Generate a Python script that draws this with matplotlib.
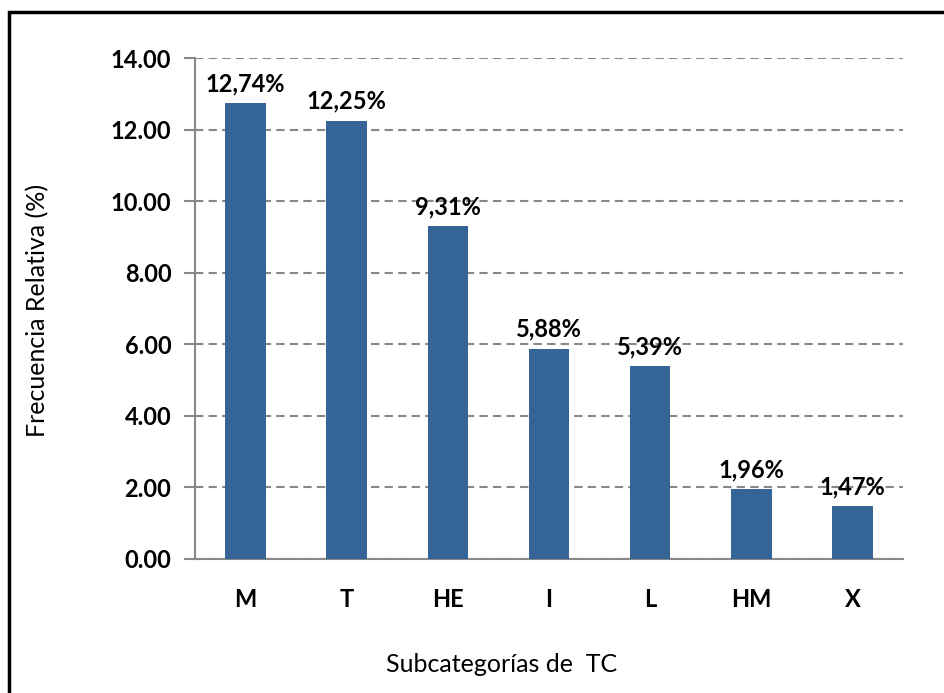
import matplotlib.pyplot as plt
from matplotlib.patches import Rectangle

categorias = ['M', 'T', 'HE', 'I', 'L', 'HM', 'X']
frecuencia = [12.74, 12.25, 9.31, 5.88, 5.39, 1.96, 1.47]
yticks = [0, 2, 4, 6, 8, 10, 12, 14]

plt.rcParams['font.family'] = ['Lato', 'DejaVu Sans']

W, H = 944, 693
fig = plt.figure(figsize=(W / 100, H / 100), dpi=100)
ax = fig.add_axes([195 / W, 1 - 559 / H, 708 / W, 501 / H])

x = range(len(categorias))
ax.bar(x, frecuencia, width=0.4, color='#346596', zorder=3)

for xi, v in zip(x, frecuencia):
    ax.text(xi, v + 0.22, f'{v:.2f}%'.replace('.', ','), ha='center', va='bottom',
            fontsize=17, fontweight='bold')

ax.set_xlim(-0.5, len(categorias) - 0.5)
ax.set_ylim(0, 14)
ax.set_yticks(yticks)
ax.set_yticklabels([f'{t:.2f}' for t in yticks], fontsize=17, fontweight='bold')
ax.set_xticks(list(x))
ax.set_xticklabels(categorias, fontsize=17, fontweight='bold')
ax.tick_params(axis='x', length=0, pad=21)
ax.tick_params(axis='y', length=8, width=1.5, color='#888888', pad=9)

ax.yaxis.grid(True, linestyle=(0, (4, 2.5)), color='#888888', linewidth=1.5, zorder=0)
for s in ['top', 'right']:
    ax.spines[s].set_visible(False)
for s in ['left', 'bottom']:
    ax.spines[s].set_color('#888888')
    ax.spines[s].set_linewidth(1.5)

fig.text(38 / W, 1 - 310 / H, 'Frecuencia Relativa (%)', rotation=90,
         ha='center', va='center', fontsize=18)
fig.text(502 / W, 1 - 665 / H, 'Subcategorías de  TC', ha='center', va='center',
         fontsize=18)

# marco exterior
fig.add_artist(Rectangle((9 / W, -0.1), 1.2, 1.1 - 12 / H, transform=fig.transFigure,
                         fill=False, edgecolor='black', linewidth=2.5))

fig.savefig('out.png', dpi=100)
